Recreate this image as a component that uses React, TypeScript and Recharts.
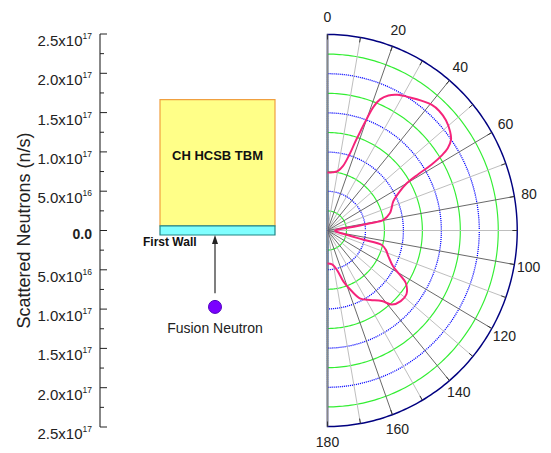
import React from 'react';
import {
  ComposedChart,
  XAxis,
  YAxis,
  ReferenceArea,
  ReferenceLine,
  Scatter,
  RadarChart,
  PolarGrid,
  PolarAngleAxis,
  PolarRadiusAxis,
  Radar,
} from 'recharts';

// scattering angle (deg, 0 = straight up) and scattered neutrons (n/s)
const angleDeg = [
  0, 5, 10, 14, 16.5, 18, 19, 20, 21, 22.5, 25, 28, 33, 37, 40.5, 44, 48, 52, 54.5, 56.5,
  57.5, 58.5, 59, 60, 63, 67, 72, 75, 79.5, 80.7, 82, 85, 90, 96, 101.5, 103.9, 104.5, 108,
  112.5, 118, 120.7, 123, 128, 133, 138, 141.5, 147.5, 153.5, 157.5, 162, 166, 172, 180,
];
const scattered = [
  7.4e16, 7.45e16, 7.7e16, 8.5e16, 1.0e17, 1.2e17, 1.35e17, 1.52e17, 1.69e17, 1.81e17, 1.9e17,
  1.96e17, 2.02e17, 2.07e17, 2.11e17, 2.12e17, 2.1e17, 2.05e17, 2.0e17, 1.9e17, 1.79e17, 1.61e17,
  1.4e17, 1.21e17, 1.05e17, 9.4e16, 8.85e16, 8.5e16, 7.5e16, 5.7e16, 3.5e16, 1.3e16, 1.0e16,
  1.1e16, 2.1e16, 4.8e16, 7.4e16, 8.1e16, 8.7e16, 9.8e16, 1.11e17, 1.23e17, 1.32e17, 1.32e17,
  1.27e17, 1.15e17, 1.05e17, 9.7e16, 8.4e16, 6.9e16, 5.2e16, 4.35e16, 4.2e16,
];

// neutron source drawn below the first wall (diagram units across, n/s axis down)
const sourcePoint = [{ x: 115, y: -9.72e16 }];

const radiusTicks = [0, 2.5e16, 5e16, 7.5e16, 1e17, 1.25e17, 1.5e17, 1.75e17, 2e17, 2.25e17, 2.5e17];
const labelledRadii = [0, 5e16, 1e17, 1.5e17, 2e17, 2.5e17];
const greenRings = [2.5e16, 7.5e16, 1.25e17, 1.75e17, 2.25e17];
const blueRings = [5e16, 1e17, 1.5e17, 2e17];
const angleTicks = [0, 10, 20, 30, 40, 50, 60, 70, 80, 90, 100, 110, 120, 130, 140, 150, 160, 170, 180];
const minorSpokes = [10, 30, 50, 70, 90, 110, 130, 150, 170];
const majorSpokes = [20, 40, 60, 80, 100, 120, 140, 160];

const W = 551;
const H = 453;
const CX = 327.5;
const CY = 230.5;
const R = 196;
const RMAX = 2.5e17;
const SQUEEZE = 0.968; // the original plot is slightly narrower than tall
const FONT = '"Liberation Sans", Arial, Helvetica, sans-serif';

const polarData = angleDeg.map((a, i) => ({ angle: a, neutrons: scattered[i] }));
const sideTicks = [...radiusTicks.slice(1).reverse().map((v) => -v), ...radiusTicks];

const toRechartsAngle = (deg: number) => 90 - deg;
const toPx = (v: number) => (v / RMAX) * R;
const arcAngles: number[] = [];
for (let a = 90; a >= -90; a -= 1) arcAngles.push(a);

const isLabelled = (v: number) => labelledRadii.some((m) => Math.abs(Math.abs(v) - m) < 1e10);

const SideTick = (props: any) => {
  const { x, y, payload } = props;
  const v = payload.value;
  const axisX = x + 8;
  const major = isLabelled(v);
  const a = Math.abs(v);
  let label: React.ReactNode = null;
  if (major) {
    if (a === 0) {
      label = (
        <text x={x} y={y + 8} textAnchor="end" fontSize={14} fontWeight="bold" fill="#222">
          0.0
        </text>
      );
    } else {
      const e = Math.floor(Math.log10(a) + 1e-9);
      const m = (a / Math.pow(10, e)).toFixed(1);
      label = (
        <text x={x} y={y + 12} textAnchor="end" fontSize={15} fill="#222">
          {m}x10
          <tspan dy={-7} fontSize={8.5}>
            {e}
          </tspan>
        </text>
      );
    }
  }
  return (
    <g>
      <line x1={axisX} x2={axisX + (major ? 7 : 4)} y1={y} y2={y} stroke="#222" />
      {label}
    </g>
  );
};

const AngleTick = (props: any) => {
  const { payload } = props;
  const cx = props.cx ?? CX;
  const cy = props.cy ?? CY;
  const r = props.radius ?? R;
  const rad = (-payload.coordinate * Math.PI) / 180;
  const ux = Math.cos(rad);
  const uy = Math.sin(rad);
  const labelled = payload.value % 20 === 0;
  const lr = r + 15 + Math.max(0, -uy) * 3;
  return (
    <g>
      <line
        x1={cx + ux * (r - 5)}
        y1={cy + uy * (r - 5)}
        x2={cx + ux * r}
        y2={cy + uy * r}
        stroke="#333"
      />
      {labelled && (
        <text
          x={cx + ux * lr}
          y={cy + uy * lr}
          textAnchor="middle"
          dominantBaseline="central"
          fontSize={14.5}
          fill="#222"
        >
          {payload.value}
        </text>
      )}
    </g>
  );
};

// centripetal Catmull-Rom through the points Recharts computed
function smoothPath(pts: { x: number; y: number }[]) {
  if (pts.length < 2) return '';
  const dist = (a: any, b: any) => Math.sqrt(Math.hypot(a.x - b.x, a.y - b.y));
  let d = `M${pts[0].x},${pts[0].y}`;
  for (let i = 0; i < pts.length - 1; i++) {
    const p0 = pts[i - 1] || pts[i];
    const p1 = pts[i];
    const p2 = pts[i + 1];
    const p3 = pts[i + 2] || p2;
    const l01 = dist(p0, p1);
    const l12 = dist(p1, p2);
    const l23 = dist(p2, p3);
    let c1x = p1.x, c1y = p1.y, c2x = p2.x, c2y = p2.y;
    if (l01 > 1e-6) {
      const a = 2 * l01 * l01 + 3 * l01 * l12 + l12 * l12;
      const n = 3 * l01 * (l01 + l12);
      c1x = (p1.x * a - p0.x * l12 * l12 + p2.x * l01 * l01) / n;
      c1y = (p1.y * a - p0.y * l12 * l12 + p2.y * l01 * l01) / n;
    }
    if (l23 > 1e-6) {
      const b = 2 * l23 * l23 + 3 * l23 * l12 + l12 * l12;
      const m = 3 * l23 * (l23 + l12);
      c2x = (p2.x * b + p1.x * l23 * l23 - p3.x * l12 * l12) / m;
      c2y = (p2.y * b + p1.y * l23 * l23 - p3.y * l12 * l12) / m;
    }
    d += ` C${c1x},${c1y} ${c2x},${c2y} ${p2.x},${p2.y}`;
  }
  return d;
}

const CurveShape = (props: any) => (
  <path d={smoothPath(props.points || [])} fill="none" stroke="#f5237a" strokeWidth={2} />
);

const ArrowShape = (props: any) => {
  const { x1, y1, x2, y2 } = props;
  return (
    <g>
      <line x1={x1} y1={y1} x2={x2} y2={y2 + 7} stroke="#555" strokeWidth={1.5} />
      <polygon points={`${x2},${y2} ${x2 - 3},${y2 + 9} ${x2 + 3},${y2 + 9}`} fill="#222" />
    </g>
  );
};

const SourceShape = (props: any) => {
  const { cx, cy } = props;
  return (
    <g>
      <circle cx={cx} cy={cy} r={6.5} fill="#7a00ff" stroke="#5000c0" />
      <text x={cx} y={cy + 26} textAnchor="middle" fontSize={14} fill="#222">
        Fusion Neutron
      </text>
    </g>
  );
};

export default function App() {
  return (
    <div style={{ position: 'relative', width: W, height: H, fontFamily: FONT, background: '#fff' }}>
      <style>{'body{margin:0}'}</style>
      <div style={{ position: 'absolute', left: 0, top: 0 }}>
        <ComposedChart width={W} height={H} margin={{ top: 34, right: 251, bottom: 26, left: 0 }}>
          <XAxis type="number" dataKey="x" domain={[0, 200]} hide />
          <YAxis
            type="number"
            dataKey="y"
            domain={[-RMAX, RMAX]}
            ticks={sideTicks}
            interval={0}
            width={100}
            tickSize={0}
            tickMargin={8}
            tickLine={false}
            axisLine={{ stroke: '#111' }}
            tick={SideTick}
            label={{
              value: 'Scattered Neutrons (n/s)',
              angle: -90,
              position: 'insideLeft',
              offset: 24,
              fontSize: 18,
              fill: '#222',
              style: { textAnchor: 'middle' },
            }}
          />
          <ReferenceArea
            x1={60}
            x2={175}
            y1={6e15}
            y2={1.665e17}
            fill="#ffff88"
            fillOpacity={1}
            stroke="#f0a040"
            strokeWidth={1.2}
            label={{
              content: (p: any) => (
                <text
                  x={p.viewBox.x + p.viewBox.width / 2}
                  y={p.viewBox.y + 60}
                  textAnchor="middle"
                  fontSize={13}
                  fontWeight="bold"
                  fill="#111"
                >
                  CH HCSB TBM
                </text>
              ),
            }}
          />
          <ReferenceArea
            x1={60}
            x2={175}
            y1={-5.7e15}
            y2={6e15}
            fill="#80ffff"
            fillOpacity={1}
            stroke="#208585"
            strokeWidth={1.2}
            label={{
              content: (p: any) => (
                <text
                  x={p.viewBox.x - 17}
                  y={p.viewBox.y + p.viewBox.height + 11}
                  fontSize={12}
                  fontWeight="bold"
                  fill="#111"
                >
                  First Wall
                </text>
              ),
            }}
          />
          <ReferenceLine
            segment={[
              { x: 115, y: -7.97e16 },
              { x: 115, y: -5.7e15 },
            ]}
            shape={ArrowShape}
          />
          <Scatter data={sourcePoint} dataKey="y" isAnimationActive={false} shape={SourceShape} />
        </ComposedChart>
      </div>
      <div
        style={{
          position: 'absolute',
          left: 0,
          top: 0,
          transform: `scaleX(${SQUEEZE})`,
          transformOrigin: `${CX}px 0px`,
        }}
      >
        <RadarChart
          width={W}
          height={H}
          data={polarData}
          cx={CX}
          cy={CY}
          innerRadius={0}
          outerRadius={R}
          startAngle={90}
          endAngle={-90}
          margin={{ top: 0, right: 0, bottom: 0, left: 0 }}
        >
          <PolarGrid
            gridType="polygon"
            radialLines={false}
            polarAngles={arcAngles}
            polarRadius={greenRings.map(toPx)}
            stroke="#33ee33"
            strokeWidth={1.2}
          />
          <PolarGrid
            gridType="polygon"
            radialLines={false}
            polarAngles={arcAngles}
            polarRadius={blueRings.map(toPx)}
            stroke="#0000ff"
            strokeWidth={1.3}
            strokeDasharray="1.1 1"
          />
          <PolarGrid
            gridType="polygon"
            radialLines
            polarAngles={minorSpokes.map(toRechartsAngle)}
            polarRadius={[0]}
            stroke="#bdbdbd"
          />
          <PolarGrid
            gridType="polygon"
            radialLines
            polarAngles={majorSpokes.map(toRechartsAngle)}
            polarRadius={[0]}
            stroke="#666"
          />
          <PolarGrid
            gridType="polygon"
            radialLines={false}
            polarAngles={arcAngles}
            polarRadius={[R]}
            stroke="#000080"
            strokeWidth={1.5}
          />
          <PolarGrid
            gridType="polygon"
            radialLines
            polarAngles={[90, -90]}
            polarRadius={[0]}
            stroke="#888"
            strokeWidth={1.7}
          />
          <PolarAngleAxis
            dataKey="angle"
            type="number"
            domain={[0, 180]}
            ticks={angleTicks as any}
            tickCount={19}
            axisLine={false}
            tickLine={false}
            tick={AngleTick}
          />
          <PolarRadiusAxis type="number" domain={[0, RMAX]} tick={false} axisLine={false} />
          <Radar
            dataKey="neutrons"
            stroke="#f5237a"
            fill="none"
            dot={false}
            isAnimationActive={false}
            shape={CurveShape}
          />
        </RadarChart>
      </div>
    </div>
  );
}
